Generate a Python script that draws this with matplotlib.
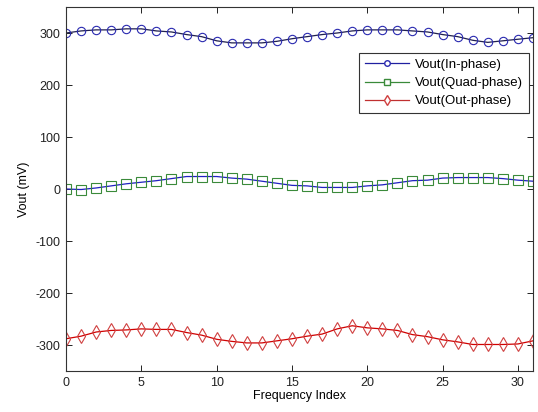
import numpy as np
import matplotlib
matplotlib.use("Agg")
import matplotlib.pyplot as plt
from matplotlib.lines import Line2D

plt.rcParams["font.family"] = ["Liberation Sans", "DejaVu Sans"]
plt.rcParams["font.size"] = 9
plt.rcParams["axes.unicode_minus"] = False

freq_index = list(range(32))
vout_in = [300, 304, 306, 306, 308, 308, 304, 302, 297, 293, 285, 281, 281, 281, 284, 289,
           293, 297, 300, 304, 306, 306, 306, 304, 302, 297, 293, 286, 282, 285, 288, 291]
vout_quad = [0, -1, 2, 6, 10, 13, 16, 20, 24, 24, 24, 21, 19, 15, 11, 7,
             6, 3, 3, 3, 6, 8, 12, 16, 17, 21, 22, 22, 22, 20, 17, 15]
vout_out = [-288, -283, -275, -272, -271, -269, -270, -270, -276, -281, -289, -293, -296, -296, -292, -288,
            -283, -279, -269, -263, -267, -269, -272, -280, -284, -290, -294, -299, -299, -299, -298, -292]
labels = ["Vout(In-phase)", "Vout(Quad-phase)", "Vout(Out-phase)"]

fig = plt.figure(figsize=(5.38, 4.12), dpi=100)
ax = fig.add_axes([0.1227, 0.0995, 0.868, 0.8835])

# lines and markers drawn separately (line colours differ from markers in the original)
ax.plot(freq_index, vout_in, color="#202050", lw=0.9)
ax.plot(freq_index, vout_in, ls="none", marker="o", ms=6, mfc="none", mec="#2a2ab0", mew=0.8)
ax.plot(freq_index, vout_quad, color="#2020c0", lw=0.9)
ax.plot(freq_index, vout_quad, ls="none", marker="s", ms=6.5, mfc="none", mec="#3a8a3a", mew=0.8)
ax.plot(freq_index, vout_out, color="#d00000", lw=0.9)
ax.plot(freq_index, vout_out, ls="none", marker="d", ms=7, mfc="none", mec="#d04040", mew=0.8)

handles = [
    Line2D([], [], color="#2020a0", lw=0.9, marker="o", ms=4, mfc="white", mec="#2a2ab0"),
    Line2D([], [], color="#3a8a3a", lw=0.9, marker="s", ms=4, mfc="white", mec="#3a8a3a"),
    Line2D([], [], color="#c03030", lw=0.9, marker="d", ms=5, mfc="white", mec="#d04040"),
]
leg = ax.legend(handles, labels, loc="upper right", bbox_to_anchor=(0.992, 0.874),
                fancybox=False, edgecolor="#333333", framealpha=1, handlelength=3.3,
                borderpad=0.45, labelspacing=0.45, handletextpad=0.5, borderaxespad=0,
                fontsize=9.5)
leg.get_frame().set_linewidth(0.8)

ax.set_xlim(0, 31)
ax.set_ylim(-350, 350)
ax.set_xticks([0, 5, 10, 15, 20, 25, 30])
ax.set_yticks([-300, -200, -100, 0, 100, 200, 300])
ax.tick_params(direction="in", top=True, right=True, length=4, width=0.7, colors="#222222", pad=4)
for s in ax.spines.values():
    s.set_linewidth(0.8)
    s.set_color("#333333")
ax.set_xlabel("Frequency Index", labelpad=1)
ax.set_ylabel("Vout (mV)", labelpad=4)

fig.savefig("out.png", dpi=100)
